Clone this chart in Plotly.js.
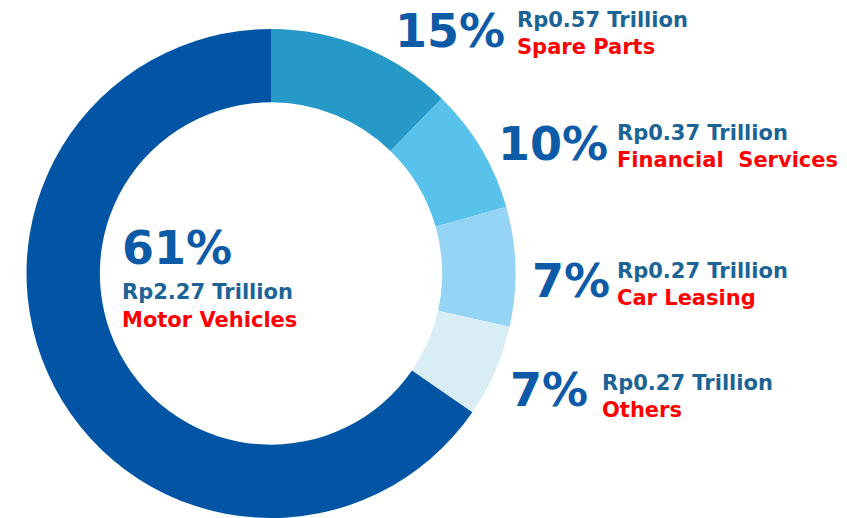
<!DOCTYPE html>
<html>
<head>
<meta charset="utf-8">
<script src="https://cdn.plot.ly/plotly-3.0.1.min.js"></script>
<style>
  html, body { margin: 0; padding: 0; background: #ffffff; }
  #chart { width: 847px; height: 518px; }
</style>
</head>
<body>
<div id="chart"></div>
<script>
// Segments, clockwise from 12 o'clock
const segments = ["Spare Parts", "Financial  Services", "Car Leasing", "Others", "Motor Vehicles"];
// Slice sizes as drawn in the picture (degrees of arc -> share)
const sliceShares = [12.3, 8.3, 7.9, 6.1, 65.4];
// Printed labels
const percentLabels = ["15%", "10%", "7%", "7%", "61%"];
const amountLabels = ["Rp0.57 Trillion", "Rp0.37 Trillion", "Rp0.27 Trillion", "Rp0.27 Trillion", "Rp2.27 Trillion"];
const sliceColors = ["#2699c9", "#58c2ea", "#95d4f4", "#d9edf4", "#0255a5"];

// label placement in pixels (left edge / vertical centre)
const pctPos = [[393, 31], [496, 144], [530, 281], [508, 390], [120, 248]];
const txtPos = [[515, 20], [615, 133], [615, 271], [600, 383], [120, 292]];
const namePos = [[515, 47], [615, 160], [615, 298], [600, 410], [120, 320]];

const W = 847, H = 518;
const px = (x) => x / W;
const py = (y) => 1 - y / H;

const trace = {
  type: "pie",
  labels: segments,
  values: sliceShares,
  sort: false,
  direction: "clockwise",
  rotation: 0,
  hole: 0.70,
  textinfo: "none",
  hoverinfo: "label",
  marker: {
    colors: sliceColors,
    line: { width: 0 }
  },
  domain: { x: [26 / W, 516 / W], y: [0, 0.944] }
};

const annotations = [];
segments.forEach((name, i) => {
  annotations.push({
    text: "<b>" + percentLabels[i] + "</b>",
    x: px(pctPos[i][0]), y: py(pctPos[i][1]),
    xref: "paper", yref: "paper", xanchor: "left", yanchor: "middle",
    showarrow: false,
    font: { family: "DejaVu Sans, Verdana, sans-serif", size: 46, color: "#0d5aa6" }
  });
  annotations.push({
    text: "<b>" + amountLabels[i] + "</b>",
    x: px(txtPos[i][0]), y: py(txtPos[i][1]),
    xref: "paper", yref: "paper", xanchor: "left", yanchor: "middle",
    showarrow: false,
    font: { family: "DejaVu Sans, Verdana, sans-serif", size: 21, color: "#1c6396" }
  });
  annotations.push({
    text: "<b>" + name.replace(/ /g, "&nbsp;") + "</b>",
    x: px(namePos[i][0]), y: py(namePos[i][1]),
    xref: "paper", yref: "paper", xanchor: "left", yanchor: "middle",
    showarrow: false,
    font: { family: "DejaVu Sans, Verdana, sans-serif", size: 21, color: "#ff0000" }
  });
});

const layout = {
  width: W,
  height: H,
  margin: { l: 0, r: 0, t: 0, b: 0 },
  showlegend: false,
  paper_bgcolor: "#ffffff",
  annotations: annotations
};

Plotly.newPlot("chart", [trace], layout, { displayModeBar: false, staticPlot: true });
</script>
</body>
</html>
